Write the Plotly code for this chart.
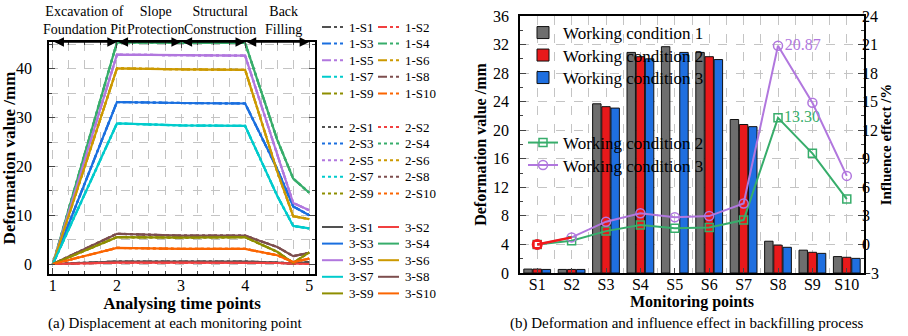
import plotly.graph_objects as go

# ---------------- data: panel (a) ----------------
time_points = [1, 2, 3, 4, 4.5, 4.75, 5]
point_names = ["S1", "S2", "S3", "S4", "S5", "S6", "S7", "S8", "S9", "S10"]
disp_S1 = [0, 0.5, 0.5, 0.5, 0.3, 0.1, 0.4]
disp_S2 = [0, 0.3, 0.3, 0.3, 0.2, 0.1, 0.0]
disp_S3 = [0, 33.2, 33.0, 32.9, 19.5, 11.8, 10.0]
disp_S4 = [0, 45.4, 45.3, 45.3, 25.5, 17.5, 14.6]
disp_S5 = [0, 42.9, 42.8, 42.7, 22.5, 12.5, 11.0]
disp_S6 = [0, 40.1, 39.9, 39.8, 19.0, 9.8, 9.2]
disp_S7 = [0, 28.8, 28.4, 28.3, 14.0, 7.8, 7.3]
disp_S8 = [0, 6.2, 5.8, 5.8, 3.5, 1.6, 2.3]
disp_S9 = [0, 5.5, 5.4, 5.5, 2.5, 0.2, 2.4]
disp_S10 = [0, 3.3, 3.1, 3.1, 1.8, 0.4, 1.1]
disp_all = [disp_S1, disp_S2, disp_S3, disp_S4, disp_S5,
            disp_S6, disp_S7, disp_S8, disp_S9, disp_S10]
conditions = ["1", "2", "3"]
phase_labels = ["Excavation of<br>Foundation Pit", "Slope<br>Protection",
                "Structural<br>Construction", "Back<br>Filling"]

# ---------------- data: panel (b) ----------------
bar_wc1 = [0.55, 0.5, 23.7, 30.9, 31.7, 30.9, 21.5, 4.45, 3.2, 2.3]
bar_wc2 = [0.55, 0.5, 23.3, 30.3, None, 30.3, 20.8, 3.9, 2.9, 2.2]
bar_wc3 = [0.5, 0.5, 23.1, 30.0, 30.9, 29.9, 20.5, 3.6, 2.75, 2.05]
eff_wc2 = [0.0, 0.4, 1.4, 2.04, 1.69, 1.79, 2.56, 13.30, 9.57, 4.77]
eff_wc3 = [0.0, 0.74, 2.39, 3.27, 2.85, 2.98, 4.3, 20.87, 14.88, 7.2]

colors = ["#515151", "#F14040", "#1A6FDF", "#37AD6B", "#B177DE",
          "#CC9900", "#00CBCC", "#7D4E4E", "#8E8E00", "#FB6501"]
dashes = {"1": "dashdot", "2": "dot", "3": "solid"}
FONT = "Liberation Serif, Times New Roman, DejaVu Serif, serif"
W, H = 908, 336


def px(xp):
    return xp / W


def py(yp):
    return 1 - yp / H


fig = go.Figure()

# ---------- panel (a) lines ----------
for c in conditions:
    for i, name in enumerate(point_names):
        fig.add_trace(go.Scatter(
            x=time_points, y=disp_all[i], mode="lines",
            name=f"{c}-{name}", showlegend=False,
            line=dict(color=colors[i], width=2.2, dash=dashes[c]),
            xaxis="x", yaxis="y"))

# ---------- panel (b) bars ----------
xcat = list(range(len(point_names)))
bar_cols = ["#6E6E6E", "#E8191B", "#1F6FE0"]
bar_names = ["Working condition 1", "Working condition 2", "Working condition 3"]
for j, (vals, nm, colr) in enumerate(zip([bar_wc1, bar_wc2, bar_wc3], bar_names, bar_cols)):
    fig.add_trace(go.Bar(x=xcat, y=vals, name=nm,
                         marker=dict(color=colr, line=dict(color="#111111", width=1)),
                         xaxis="x2", yaxis="y2", legend=f"legend{j + 2}"))

# ---------- panel (b) influence lines ----------
lbl2 = ["" for _ in eff_wc2]
lbl2[7] = f"{eff_wc2[7]:.2f}"
lbl3 = ["" for _ in eff_wc3]
lbl3[7] = f"{eff_wc3[7]:.2f}"
fig.add_trace(go.Scatter(
    x=xcat, y=eff_wc2, mode="lines+markers+text", name="Working condition 2",
    line=dict(color="#37AD6B", width=2),
    marker=dict(symbol="square-open", size=8, color="#37AD6B", line=dict(width=1.5)),
    text=lbl2, textposition="middle right",
    textfont=dict(family=FONT, size=16, color="#37AD6B"),
    xaxis="x2", yaxis="y3", legend="legend5"))
fig.add_trace(go.Scatter(
    x=xcat, y=eff_wc3, mode="lines+markers+text", name="Working condition 3",
    line=dict(color="#B177DE", width=2),
    marker=dict(symbol="circle-open", size=9, color="#B177DE", line=dict(width=1.5)),
    text=lbl3, textposition="middle right",
    textfont=dict(family=FONT, size=16, color="#B177DE"),
    xaxis="x2", yaxis="y3", legend="legend6"))
# red start segment S1-S2
fig.add_trace(go.Scatter(
    x=xcat[:2], y=eff_wc3[:2], mode="lines", showlegend=False,
    line=dict(color="#F21A1A", width=2.5), xaxis="x2", yaxis="y3"))
fig.add_trace(go.Scatter(
    x=xcat[:1], y=eff_wc3[:1], mode="markers", showlegend=False,
    marker=dict(symbol="circle-open", size=9, color="#F21A1A", line=dict(width=2)),
    xaxis="x2", yaxis="y3"))
fig.add_trace(go.Scatter(
    x=xcat[:1], y=eff_wc2[:1], mode="markers", showlegend=False,
    marker=dict(symbol="square-open", size=7, color="#F21A1A", line=dict(width=2)),
    xaxis="x2", yaxis="y3"))

# ---------- axes ----------
tickfont = dict(family=FONT, size=16, color="black")
titlefont = dict(family=FONT, size=16, color="black")
grid = dict(showgrid=True, gridcolor="#C4C4C4", gridwidth=1, griddash="dash")

fig.update_layout(
    xaxis=dict(domain=[px(49), px(315)], range=[0.94, 5.09], dtick=1, tick0=1,
               ticks="inside", ticklen=6, tickwidth=1.2, mirror="allticks",
               showline=True, linecolor="black", linewidth=1.5,
               tickfont=tickfont, zeroline=False, ticklabelstandoff=-4,
               title=dict(text="<b>Analysing time points</b>", font=dict(family=FONT, size=17, color="black"), standoff=3),
               minor=dict(dtick=0.25, ticks="inside", ticklen=3, showgrid=True,
                          gridcolor="#C4C4C4", griddash="dash"),
               anchor="y", **grid),
    yaxis=dict(domain=[py(274), py(42)], range=[-2.05, 45.5], dtick=10,
               ticks="inside", ticklen=6, tickwidth=1.2, mirror="allticks",
               showline=True, linecolor="black", linewidth=1.5,
               tickfont=tickfont, zeroline=False, ticklabelstandoff=12,
               title=dict(text="<b>Deformation value /mm</b>", font=dict(family=FONT, size=17, color="black"), standoff=0),
               minor=dict(dtick=5, ticks="inside", ticklen=3, showgrid=True,
                          gridcolor="#C4C4C4", griddash="dash"),
               anchor="x", **grid),
    xaxis2=dict(domain=[px(520), px(864)], range=[-0.5, 9.5],
                tickvals=xcat, ticktext=point_names,
                ticks="inside", ticklen=5, tickwidth=1.2, mirror=True,
                showline=True, linecolor="black", linewidth=1.5,
                tickfont=tickfont, zeroline=False, ticklabelstandoff=-4,
                title=dict(text="<b>Monitoring points</b>", font=titlefont, standoff=3),
                minor=dict(dtick=0.5, tick0=-0.5, showgrid=True,
                           gridcolor="#C4C4C4", griddash="dash"),
                anchor="y2", **grid),
    yaxis2=dict(domain=[py(273), py(16)], range=[0, 36], dtick=4,
                ticks="inside", ticklen=6, tickwidth=1.2,
                showline=True, linecolor="black", linewidth=1.5,
                tickfont=tickfont, zeroline=False, ticklabelstandoff=6,
                title=dict(text="<b>Deformation value /mm</b>", font=titlefont, standoff=2),
                minor=dict(dtick=2, ticks="inside", ticklen=3),
                anchor="x2", **grid),
    yaxis3=dict(overlaying="y2", side="right", range=[-3, 24], dtick=3,
                ticks="inside", ticklen=6, tickwidth=1.2,
                showline=True, linecolor="black", linewidth=1.5,
                tickfont=tickfont, zeroline=False, showgrid=False, ticklabelstandoff=-7,
                title=dict(text="<b>Influence effect /%</b>", font=dict(family=FONT, size=15, color="black"), standoff=3),
                minor=dict(dtick=1.5, ticks="inside", ticklen=3),
                anchor="x2"),
    barmode="group", bargap=0.2, bargroupgap=0.08,
    width=W, height=H, margin=dict(l=0, r=0, t=0, b=0, autoexpand=False),
    paper_bgcolor="white", plot_bgcolor="white",
    font=dict(family=FONT, color="black"),
    showlegend=True,
)

# panel (b) legends: one entry each, placed row by row
leg_rows = {"legend2": 33, "legend3": 55.5, "legend4": 78, "legend5": 143, "legend6": 165.5}
for lid, yrow in leg_rows.items():
    fig.update_layout({lid: dict(x=px(523), y=py(yrow), xanchor="left", yanchor="middle",
                                 bgcolor="rgba(0,0,0,0)",
                                 font=dict(family=FONT, size=17, color="black"),
                                 tracegroupgap=0, itemwidth=30,
                                 itemclick=False, itemdoubleclick=False)})

# panel (a) key: sample strokes + labels, two columns per condition block
shapes = []
ann = []
block_first_row = [27, 127, 227]
row_step = 16.6
for bi, c in enumerate(conditions):
    for i, name in enumerate(point_names):
        col = i % 2
        row = i // 2
        yc = block_first_row[bi] + row * row_step
        x0 = 322 + col * 56
        shapes.append(dict(type="line", xref="paper", yref="paper",
                           x0=px(x0), x1=px(x0 + 21), y0=py(yc), y1=py(yc),
                           line=dict(color=colors[i], width=2, dash=dashes[c])))
        ann.append(dict(text=f"{c}-{name}", x=px(x0 + 25), y=py(yc), xref="paper", yref="paper",
                        showarrow=False, xanchor="left", yanchor="middle",
                        font=dict(family=FONT, size=13, color="black")))

# phase annotations and arrows (panel a)
phase_centers = [84, 156, 220, 283]
for lab, cx in zip(phase_labels, phase_centers):
    ann.append(dict(text=lab, x=px(cx), y=py(20), xref="paper", yref="paper",
                    showarrow=False, font=dict(family=FONT, size=14, color="black"),
                    xanchor="center", yanchor="middle", align="center"))
for a0, a1 in zip(time_points[:4], [2, 3, 4, 5]):
    ann.append(dict(text="", x=a1, y=45.5, ax=a0, ay=45.5, xref="x", yref="y",
                    axref="x", ayref="y", showarrow=True, arrowside="end+start",
                    arrowhead=2, arrowsize=1.2, arrowwidth=1.6, arrowcolor="black",
                    startarrowhead=2, startarrowsize=1.2, standoff=0, startstandoff=0))
ann.append(dict(text="(a) Displacement at each monitoring point", x=px(175), y=py(323),
                xref="paper", yref="paper", showarrow=False,
                xanchor="center", yanchor="middle",
                font=dict(family=FONT, size=15, color="black")))
ann.append(dict(text="(b) Deformation and influence effect in backfilling process",
                x=px(686), y=py(323), xref="paper", yref="paper", showarrow=False,
                xanchor="center", yanchor="middle",
                font=dict(family=FONT, size=15, color="black")))
fig.update_layout(annotations=ann, shapes=shapes)

fig.write_html("out.html", config={"displayModeBar": False},
               post_script="document.body.style.margin='0px';")
